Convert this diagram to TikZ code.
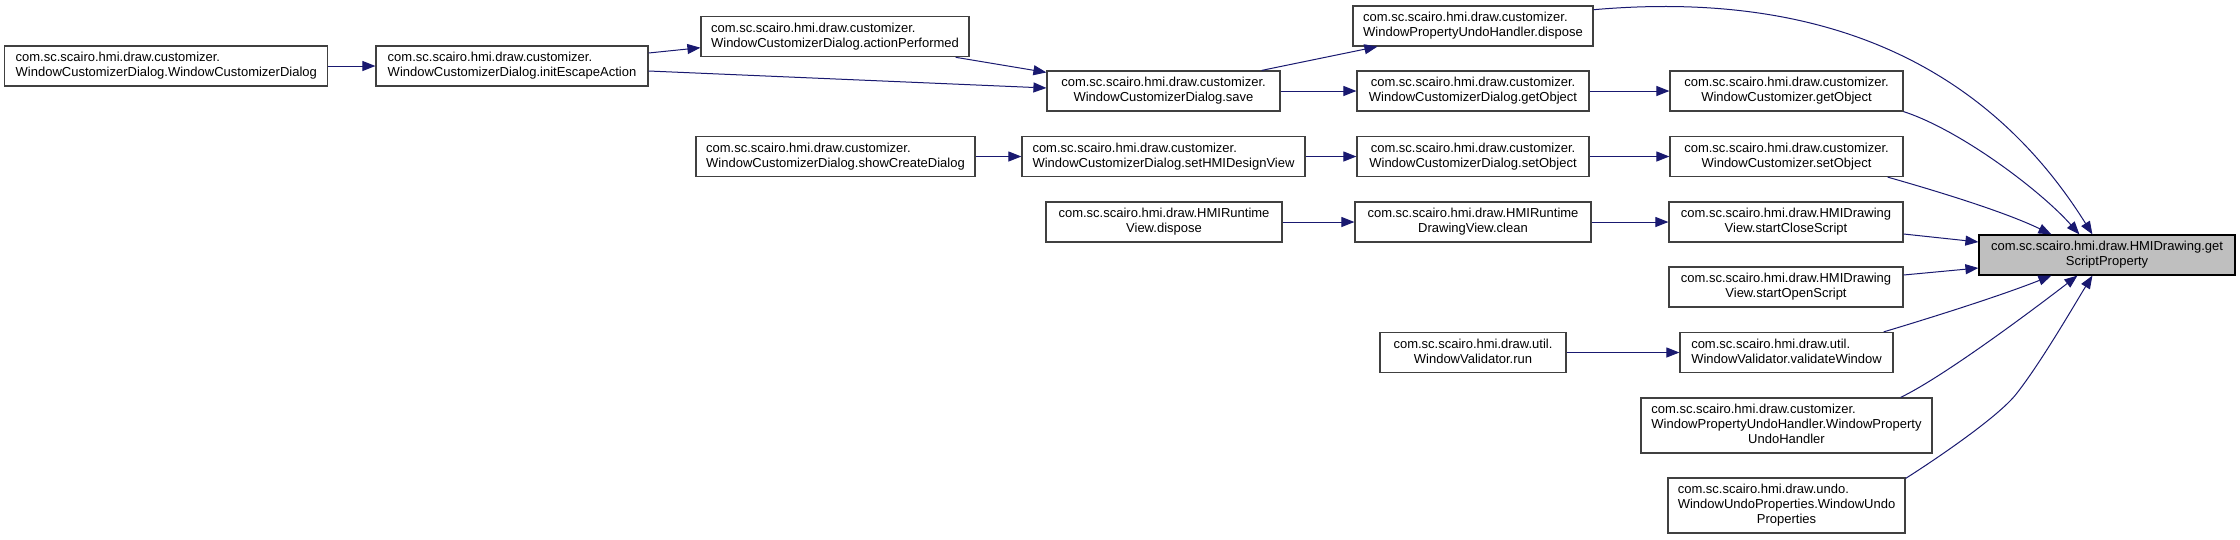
\documentclass[tikz,border=0pt]{standalone}
\usepackage{fontspec}
\setmainfont{Liberation Sans}
\usetikzlibrary{arrows.meta,calc}
\definecolor{edgec}{HTML}{191970}
\definecolor{boxc}{HTML}{404040}
\definecolor{grayfill}{HTML}{BFBFBF}
\newcommand{\lbl}[2]{\begin{tabular}{@{}#1@{}}#2\end{tabular}}
\newcommand{\pkgc}{com.sc.scairo.hmi.draw.customizer.}
\tikzset{
  box/.style={draw=boxc, line width=1.2pt, fill=white, inner sep=0pt,
    font=\fontsize{13}{15}\selectfont, minimum height=40pt},
  focus/.style={box, draw=black, fill=grayfill},
  edge/.style={draw=edgec, line width=1pt, -{Triangle[length=13pt,width=10pt]}}
}
\begin{document}
\begin{tikzpicture}[x=1pt,y=-1pt]
\fill[white] (0,0) rectangle (2240,539);
\useasboundingbox (0,0) rectangle (2240,539);

% column 1
\node[box, minimum width=323pt] (wcdctor) at (166.3,66) {\lbl{l}{\pkgc\\WindowCustomizerDialog.WindowCustomizerDialog}};
% column 2
\node[box, minimum width=272pt] (initesc) at (512,66) {\lbl{l}{\pkgc\\WindowCustomizerDialog.initEscapeAction}};
% column 3
\node[box, minimum width=268pt] (ap) at (835,36.7) {\lbl{l}{\pkgc\\WindowCustomizerDialog.actionPerformed}};
\node[box, minimum width=279pt] (scd) at (835.5,156.5) {\lbl{l}{\pkgc\\WindowCustomizerDialog.showCreateDialog}};
% column 4
\node[box, minimum width=233pt] (save) at (1163.5,91) {\lbl{c}{\pkgc\\WindowCustomizerDialog.save}};
\node[box, minimum width=283pt] (shdv) at (1163.5,156.5) {\lbl{l}{\pkgc\\WindowCustomizerDialog.setHMIDesignView}};
\node[box, minimum width=236pt] (rvd) at (1164,222) {\lbl{c}{com.sc.scairo.hmi.draw.HMIRuntime\\View.dispose}};
% column 5
\node[box, minimum width=240pt] (wpuhd) at (1473,26) {\lbl{l}{\pkgc\\WindowPropertyUndoHandler.dispose}};
\node[box, minimum width=232pt] (wcdg) at (1473,91) {\lbl{c}{\pkgc\\WindowCustomizerDialog.getObject}};
\node[box, minimum width=232pt] (wcds) at (1473,156.5) {\lbl{c}{\pkgc\\WindowCustomizerDialog.setObject}};
\node[box, minimum width=236pt] (clean) at (1473,222) {\lbl{c}{com.sc.scairo.hmi.draw.HMIRuntime\\DrawingView.clean}};
\node[box, minimum width=186pt] (wvrun) at (1473,352.5) {\lbl{c}{com.sc.scairo.hmi.draw.util.\\WindowValidator.run}};
% column 6
\node[box, minimum width=233pt] (wcg) at (1786.5,91) {\lbl{c}{\pkgc\\WindowCustomizer.getObject}};
\node[box, minimum width=233pt] (wcs) at (1786.5,156.5) {\lbl{c}{\pkgc\\WindowCustomizer.setObject}};
\node[box, minimum width=234pt] (scs) at (1786,222) {\lbl{c}{com.sc.scairo.hmi.draw.HMIDrawing\\View.startCloseScript}};
\node[box, minimum width=234pt] (sos) at (1786,287) {\lbl{c}{com.sc.scairo.hmi.draw.HMIDrawing\\View.startOpenScript}};
\node[box, minimum width=213pt] (vw) at (1786.5,352.5) {\lbl{l}{com.sc.scairo.hmi.draw.util.\\WindowValidator.validateWindow}};
\node[box, minimum width=291pt, minimum height=55pt] (wpuh) at (1786.5,425.5) {\lbl{l}{\pkgc\\WindowPropertyUndoHandler.WindowProperty\\\multicolumn{1}{@{}c@{}}{UndoHandler}}};
\node[box, minimum width=237pt, minimum height=55pt] (wup) at (1786.5,505.5) {\lbl{l}{com.sc.scairo.hmi.draw.undo.\\WindowUndoProperties.WindowUndo\\\multicolumn{1}{@{}c@{}}{Properties}}};
% focus
\node[focus, minimum width=256pt] (gsp) at (2107,255) {\lbl{c}{com.sc.scairo.hmi.draw.HMIDrawing.get\\ScriptProperty}};

% edges
\draw[edge] (wcdctor.east) -- (initesc.west);
\draw[edge] ($(initesc.east)+(0,-13)$) -- ($(ap.west)+(0,11)$);
\draw[edge] ($(initesc.east)+(0,5)$) -- ($(save.west)+(0,-3)$);
\draw[edge] ($(ap.south east)+(-14,0)$) -- ($(save.north west)+(0,2)$);
\draw[edge] ($(save.north east)+(-19,0)$) -- ($(wpuhd.south west)+(25,0)$);
\draw[edge] (save.east) -- (wcdg.west);
\draw[edge] (scd.east) -- (shdv.west);
\draw[edge] (shdv.east) -- (wcds.west);
\draw[edge] (rvd.east) -- (clean.west);
\draw[edge] (wcdg.east) -- (wcg.west);
\draw[edge] (wcds.east) -- (wcs.west);
\draw[edge] (clean.east) -- (scs.west);
\draw[edge] (wvrun.east) -- (vw.west);

\draw[edge] ($(wpuhd.north east)+(0,4.3)$) .. controls (1807,-9) and (1979,53) .. ($(gsp.north west)+(114,0)$);
\draw[edge] (wcg.south east) .. controls (1960,130) and (2040,190) .. ($(gsp.north west)+(101,0)$);
\draw[edge] ($(wcs.south east)+(-16,0)$) .. controls (1940,192) and (2005,212) .. ($(gsp.north west)+(73,0)$);
\draw[edge] ($(scs.east)+(0,12)$) -- ($(gsp.west)+(0,-13)$);
\draw[edge] ($(sos.east)+(0,-12)$) -- ($(gsp.west)+(0,13)$);
\draw[edge] ($(vw.north east)+(-10,0)$) .. controls (1930,318) and (2000,296) .. ($(gsp.south west)+(73,0)$);
\draw[edge] ($(wpuh.north east)+(-32,0)$) .. controls (1945,376) and (2038,306) .. ($(gsp.south west)+(99,0)$);
\draw[edge] ($(wup.north east)+(0,1)$) .. controls (1930,463) and (1999,417) .. (2017,393) .. controls (2042,361) and (2076,302) .. ($(gsp.south west)+(114,0)$);
\end{tikzpicture}
\end{document}
